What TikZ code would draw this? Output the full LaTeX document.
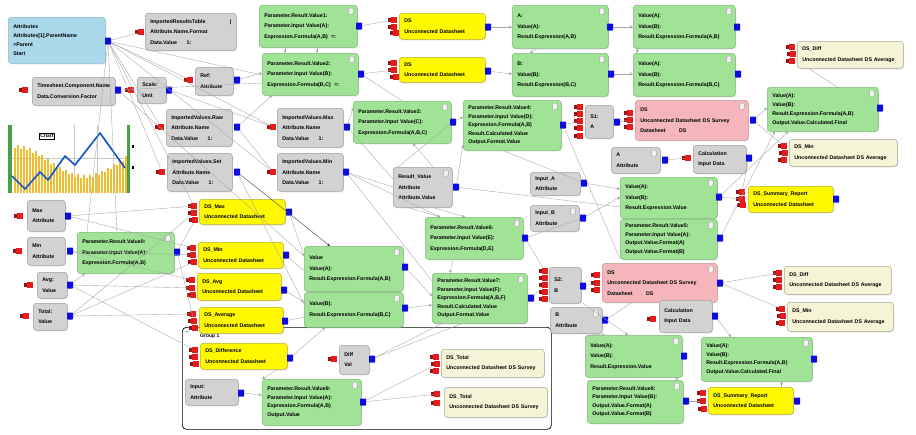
\documentclass[tikz,border=0pt]{standalone}
\usepackage{fontspec}
\newfontfamily\lab{Liberation Sans}
\usetikzlibrary{arrows.meta,shadows}
\definecolor{gfill}{RGB}{160,226,150}
\definecolor{gdraw}{RGB}{125,185,118}
\definecolor{grfill}{RGB}{210,210,210}
\definecolor{grdraw}{RGB}{160,160,160}
\definecolor{yfill}{RGB}{255,248,0}
\definecolor{ydraw}{RGB}{185,175,40}
\definecolor{pfill}{RGB}{244,182,186}
\definecolor{pdraw}{RGB}{200,150,150}
\definecolor{bfill}{RGB}{246,244,214}
\definecolor{bdraw}{RGB}{170,170,150}
\definecolor{lbfill}{RGB}{172,216,236}
\definecolor{lbdraw}{RGB}{140,185,205}
\definecolor{portblue}{RGB}{12,12,225}
\definecolor{portred}{RGB}{230,28,28}
\definecolor{pdark}{RGB}{150,20,20}
\definecolor{cline}{RGB}{165,165,165}
\definecolor{baryel}{RGB}{238,188,45}
\definecolor{chartgreen}{RGB}{70,160,70}
\definecolor{chartblue}{RGB}{25,90,200}
\tikzset{
  box/.style={rounded corners=3pt, line width=0.5pt, inner sep=2pt, align=left,
    drop shadow={shadow xshift=0.8pt, shadow yshift=-1pt, opacity=0.25},
    font=\lab\bfseries\fontsize{5.3}{10.5}\selectfont},
  gn/.style={box, fill=gfill, draw=gdraw},
  gr/.style={box, fill=grfill, draw=grdraw},
  yl/.style={box, fill=yfill, draw=ydraw},
  pk/.style={box, fill=pfill, draw=pdraw},
  bg/.style={box, fill=bfill, draw=bdraw},
  lb/.style={box, fill=lbfill, draw=lbdraw},
  bport/.style={fill=portblue, minimum width=6pt, minimum height=7pt, inner sep=0pt, rounded corners=0.6pt},
  rport/.style={fill=portred, minimum width=6.5pt, minimum height=6.5pt, inner sep=0pt},
  icn/.style={draw=gray!70, fill=white!90!gray, minimum width=5pt, minimum height=6pt, inner sep=0pt, rounded corners=1pt},
  cn/.style={draw=cline, line width=0.35pt},
  cd/.style={draw=black!75, line width=0.4pt},
  ar/.style={-{Stealth[length=3pt,width=3pt]}},
}
\newcommand\bx[7]{%
  \pgfmathsetmacro\bw{#5-#3}\pgfmathsetmacro\bh{#6-#4}\pgfmathsetmacro\tw{#5-#3-10}%
  \node[#2, anchor=north west, minimum width=\bw pt, minimum height=\bh pt, text width=\tw pt] (#1) at (#3,#4) {#7};}
\newcommand\bxi[7]{\bx{#1}{#2}{#3}{#4}{#5}{#6}{#7}%
  \node[icn, anchor=north east] (#1-ic) at ([shift={(-4pt,-3pt)}]#1.north east) {};}
\newcommand\bp[3]{\node[bport] (#1) at (#2,#3) {};}
\newcommand\rp[3]{\fill[pdark] (#2-6.2,#3-1.6) rectangle (#2-2.5,#3+1.6); \node[rport] (#1) at (#2,#3) {};}
\begin{document}
\begin{tikzpicture}[x=1pt,y=-1pt]
\useasboundingbox (0,0) rectangle (916,434);
\fill[white] (0,0) rectangle (916,434);

% ---------- chart ----------
\node[inner sep=0pt, minimum width=122pt, minimum height=68pt, anchor=north west, fill=white] (chart) at (8,125) {};
\draw[gray!45, line width=0.4pt] (74,125) -- (74,193) (97,125) -- (97,193) (11,158) -- (127,158);
\foreach \i in {0,...,37} {
  \pgfmathsetmacro\hh{30+15*cos(3*\i*2.5714)+3*mod(\i,2)}
  \pgfmathsetmacro\xx{14+3*\i}
  \fill[baryel] (\xx,193) rectangle (\xx+2,193-\hh);
}
\fill[chartgreen] (8,125) rectangle (11.5,193);
\fill[chartgreen] (126.5,125) rectangle (130,193);
\draw[chartblue, line width=1.7pt, line join=round] (12,176) -- (25,189) -- (40,172) -- (48,180) -- (65,156) -- (75,165) -- (100,133) -- (125,168);
\node[draw, fill=white, inner sep=1pt, font=\lab\bfseries\fontsize{5}{6}\selectfont] (chartlbl) at (47,136) {Chart};
\fill[black] (132,145) rectangle (134,148);
\fill[black] (132,166) rectangle (134,169);

% ---------- group ----------
\node[draw=black, rounded corners=4pt, line width=0.7pt, minimum width=369pt, minimum height=102pt, anchor=north west, inner sep=0pt] (grp) at (182,327) {};
\node[font=\lab\bfseries\fontsize{4.5}{5}\selectfont, inner sep=0pt] (grpic) at (187,333) {--};
\node[font=\lab\bfseries\fontsize{5}{5}\selectfont, inner sep=0pt, anchor=west] (grplbl) at (200,336) {Group 1};

% ---------- nodes ----------
\bx{n1}{lb}{8}{17}{105}{63}{Attributes\\[-1.5pt]Attributes[1].ParentName\\[-1.5pt]=Parent\\[-1.5pt]Start}
\bp{n1o}{108}{41}
\bx{g1}{gr}{145}{13}{236}{50}{ImportedResultsTable \hfill|\\Attribute.Name.Format\\Data.Value \hspace{6pt} 1:}
\rp{g1a}{141}{32}
\bx{g2}{gr}{32}{77}{115}{105}{Timesheet.Component.Name\\Data.Conversion.Factor}
\rp{g2a}{25}{90}\bp{g2o}{118}{90}
\bx{g3}{gr}{137}{77}{166}{103}{Scale:\\Unit}
\rp{g3a}{131}{90}\bp{g3o}{169}{90}
\bx{g4}{gr}{195}{67}{233}{95}{Ref:\\Attribute}
\rp{g4a}{190}{80}\bp{g4o}{237}{80}
\bx{g5}{gr}{166}{109}{232}{146}{ImportedValues.Raw\\Attribute.Name\\Data.Value \hspace{6pt} 1:}
\rp{g5a}{161}{127}\bp{g5o}{237}{127}
\bx{g6}{gr}{167}{153}{232}{191}{ImportedValues.Set\\Attribute.Name\\Data.Value \hspace{6pt} 1:}
\rp{g6a}{162}{172}\bp{g6o}{237}{172}

\bxi{G1}{gn}{259}{5}{357}{47}{Parameter.Result.Value1:\\Parameter.Input Value(A):\\Expression.Formula(A,B) \ =:}
\bp{G1o}{359}{26}
\bxi{G2}{gn}{262}{53}{358}{95}{Parameter.Result.Value2:\\Parameter.Input Value(B):\\Expression.Formula(B,C) \ =:}
\bp{G2o}{361}{74}
\bx{Y1}{yl}{399}{13}{485}{39}{DS\\Unconnected Datasheet}
\rp{Y1a}{394}{20}\rp{Y1b}{394}{27}\rp{Y1c}{396}{33}\bp{Y1o}{488}{27}
\bx{Y2}{yl}{399}{57}{485}{82}{DS\\Unconnected Datasheet}
\rp{Y2a}{394}{63}\rp{Y2b}{394}{70}\rp{Y2c}{396}{77}\bp{Y2o}{488}{71}
\bxi{G3}{gn}{512}{5}{608}{48}{A:\\Value(A):\\Result.Expression(A,B)}
\bp{G3o}{610}{27}
\bxi{G4}{gn}{512}{53}{608}{96}{B:\\Value(B):\\Result.Expression(B,C)}
\bp{G4o}{611}{74}
\bxi{G5}{gn}{633}{5}{735}{48}{Value(A):\\Value(B):\\Result.Expression.Formula(A,B)}
\bp{G5o}{737}{27}
\bxi{G6}{gn}{633}{53}{735}{96}{Value(A):\\Value(B):\\Result.Expression.Formula(B,C)}
\bp{G6o}{738}{74}
\bx{B1}{bg}{797}{41}{903}{68}{DS\_Diff\\Unconnected Datasheet DS Average}
\rp{B1a}{792}{47}\rp{B1b}{793}{54}\rp{B1c}{792}{61}
\bxi{G7}{gn}{767}{87}{878}{131}{Value(A):\\[-1.5pt]Value(B):\\[-1.5pt]Result.Expression.Formula(A,B)\\[-1.5pt]Output.Value.Calculated.Final}
\bp{G7o}{880}{108}
\bx{B2}{bg}{789}{139}{897}{166}{DS\_Min\\Unconnected Datasheet DS Average}
\rp{B2a}{784}{146}\rp{B2b}{785}{153}\rp{B2c}{784}{160}

\bx{G8}{gr}{277}{108}{343}{147}{ImportedValues.Max\\Attribute.Name\\Data.Value \hspace{6pt} 1:}
\rp{G8a}{273}{127}\bp{G8o}{347}{127}
\bx{G9}{gr}{277}{153}{343}{191}{ImportedValues.Min\\Attribute.Name\\Data.Value \hspace{6pt} 1:}
\rp{G9a}{273}{172}\bp{G9o}{346}{172}
\bxi{G10}{gn}{353}{101}{451}{143}{Parameter.Result.Value3:\\Parameter.Input Value(C):\\Expression.Formula(A,B,C)}
\bp{G10o}{453}{122}
\bxi{G11}{gn}{463}{100}{561}{150}{Parameter.Result.Value4:\\[-2pt]Parameter.Input Value(D):\\[-2pt]Expression.Formula(A,B)\\[-2pt]Result.Calculated.Value\\[-2pt]Output.Format.Value}
\bp{G11o}{563}{125}
\bx{g12}{gr}{585}{105}{613}{138}{S1:\\A}
\rp{g12a}{580}{107}\rp{g12b}{580}{114}\rp{g12c}{580}{121}\rp{g12d}{580}{128}\rp{g12e}{580}{136}\bp{g12o}{617}{122}
\bxi{P1}{pk}{635}{100}{748}{140}{DS\\Unconnected Datasheet DS Survey\\Datasheet \hspace{10pt} DS}
\rp{P1a}{630}{113}\rp{P1b}{630}{120}\rp{P1c}{630}{127}\bp{P1o}{753}{120}
\bxi{g13}{gr}{611}{147}{660}{173}{A\\Attribute}
\bp{g13o}{665}{160}
\bx{g14}{gr}{693}{145}{746}{173}{Calculation\\Input Data}
\rp{g14a}{688}{158}\bp{g14o}{749}{158}
\bx{Y3}{yl}{748}{186}{833}{212}{DS\_Summary\_Report\\Unconnected Datasheet}
\rp{Y3a}{742}{192}\rp{Y3b}{742}{199}\rp{Y3c}{743}{205}\bp{Y3o}{836}{199}

\bxi{g15}{gr}{393}{167}{452}{207}{Result\_Value\\Attribute\\Attribute.Value}
\bp{g15o}{456}{187}
\bx{g16}{gr}{530}{172}{580}{195}{Input\_A\\Attribute}
\bp{g16o}{584}{183}
\bxi{g17}{gr}{530}{205}{579}{231}{Input\_B\\Attribute}
\bp{g17o}{583}{218}
\bxi{G12}{gn}{620}{177}{717}{218}{Value(A):\\Value(B):\\Result.Expression.Value}
\bp{G12o}{719}{197}
\bxi{G13}{gn}{620}{219}{717}{259}{Parameter.Result.Value5:\\[-2pt]Parameter.Input Value(A):\\[-2pt]Output.Value.Format(A)\\[-2pt]Output.Value.Format(B)}
\bp{G13o}{720}{238}
\bxi{G14}{gn}{425}{217}{523}{259}{Parameter.Result.Value6:\\Parameter.Input Value(E):\\Expression.Formula(D,E)}
\bp{G14o}{525}{238}
\bxi{G15}{gn}{304}{246}{403}{291}{Value\\Value(A):\\Result.Expression.Formula(A,B)}
\bp{G15o}{405}{267}
\bxi{G16}{gn}{304}{292}{403}{327}{Value(B):\\Result.Expression.Formula(B,C)}
\bp{G16o}{405}{308}
\bxi{G17}{gn}{432}{273}{527}{323}{Parameter.Result.Value7:\\[-2pt]Parameter.Input Value(F):\\[-2pt]Expression.Formula(A,B,F)\\[-2pt]Result.Calculated.Value\\[-2pt]Output.Format.Value}
\bp{G17o}{531}{298}
\bx{g18}{gr}{549}{267}{581}{303}{S2:\\B}
\rp{g18a}{545}{271}\rp{g18b}{545}{278}\rp{g18c}{545}{285}\rp{g18d}{545}{292}\rp{g18e}{545}{299}\bp{g18o}{583}{286}
\bxi{P2}{pk}{602}{263}{717}{302}{DS\\Unconnected Datasheet DS Survey\\Datasheet \hspace{10pt} DS}
\rp{P2a}{597}{275}\rp{P2b}{597}{283}\rp{P2c}{597}{290}\bp{P2o}{720}{283}
\bxi{g19}{gr}{550}{307}{602}{333}{B\\Attribute}
\bp{g19o}{605}{320}
\bx{g20}{gr}{659}{300}{712}{332}{Calculation\\Input Data}
\rp{g20a}{653}{319}\bp{g20o}{715}{316}
\bx{B3}{bg}{784}{266}{891}{294}{DS\_Diff\\Unconnected Datasheet DS Average}
\rp{B3a}{779}{273}\rp{B3b}{779}{280}\rp{B3c}{779}{287}
\bx{B4}{bg}{787}{302}{893}{331}{DS\_Min\\Unconnected Datasheet DS Average}
\rp{B4a}{782}{309}\rp{B4b}{783}{316}\rp{B4c}{782}{323}
\bxi{G18}{gn}{585}{335}{682}{377}{Value(A):\\Value(B):\\Result.Expression.Value}
\bp{G18o}{684}{356}
\bxi{G19}{gn}{587}{380}{683}{423}{Parameter.Result.Value8:\\[-2pt]Parameter.Input Value(B):\\[-2pt]Output.Value.Format(A)\\[-2pt]Output.Value.Format(B)}
\bp{G19o}{686}{401}
\bxi{G20}{gn}{701}{337}{812}{381}{Value(A):\\[-2pt]Value(B):\\[-2pt]Result.Expression.Formula(A,B)\\[-2pt]Output.Value.Calculated.Final}
\bp{G20o}{814}{359}
\bx{Y4}{yl}{708}{387}{793}{414}{DS\_Summary\_Report\\Unconnected Datasheet}
\rp{Y4a}{703}{393}\rp{Y4b}{703}{401}\rp{Y4c}{704}{409}\bp{Y4o}{797}{401}

\bx{g21}{gr}{27}{200}{65}{231}{Max\\Attribute}
\rp{g21a}{20}{216}\bp{g21o}{68}{216}
\bx{g22}{gr}{27}{237}{65}{265}{Min\\Attribute}
\rp{g22a}{19}{251}\bp{g22o}{70}{251}
\bx{g23}{gr}{37}{272}{67}{298}{Avg:\\Value}
\rp{g23a}{30}{285}\bp{g23o}{70}{285}
\bx{g24}{gr}{33}{303}{67}{330}{Total:\\Value}
\rp{g24a}{26}{316}\bp{g24o}{70}{316}
\bxi{G21}{gn}{77}{232}{174}{273}{Parameter.Result.Value0:\\Parameter.Input Value(A):\\Expression.Formula(A,B)}
\bp{G21o}{177}{252}
\bx{Y5}{yl}{199}{199}{285}{224}{DS\_Max\\Unconnected Datasheet}
\rp{Y5a}{194}{206}\rp{Y5b}{194}{213}\rp{Y5c}{195}{220}\bp{Y5o}{289}{212}
\bx{Y6}{yl}{198}{242}{283}{268}{DS\_Min\\Unconnected Datasheet}
\rp{Y6a}{193}{248}\rp{Y6b}{193}{255}\rp{Y6c}{194}{262}\bp{Y6o}{286}{255}
\bx{Y7}{yl}{197}{273}{281}{300}{DS\_Avg\\Unconnected Datasheet}
\rp{Y7a}{192}{280}\rp{Y7b}{192}{288}\rp{Y7c}{193}{295}\bp{Y7o}{284}{290}
\bx{Y8}{yl}{199}{307}{283}{333}{DS\_Average\\Unconnected Datasheet}
\rp{Y8a}{193}{314}\rp{Y8b}{194}{321}\rp{Y8c}{195}{328}\bp{Y8o}{285}{321}
\bx{Y9}{yl}{200}{343}{287}{369}{DS\_Difference\\Unconnected Datasheet}
\rp{Y9a}{195}{350}\rp{Y9b}{195}{357}\rp{Y9c}{196}{364}\bp{Y9o}{290}{358}
\bx{g25}{gr}{185}{379}{238}{405}{Input:\\Attribute}
\bp{g25o}{241}{393}
\bxi{G22}{gn}{262}{379}{361}{425}{Parameter.Result.Value9:\\[-2pt]Parameter.Input Value(A):\\[-2pt]Expression.Formula(A,B)\\[-2pt]Output.Value}
\bp{G22o}{363}{402}
\bx{g26}{gr}{339}{345}{369}{374}{Diff\\Val}
\rp{g26a}{334}{359}\bp{g26o}{372}{359}
\bx{B5}{bg}{441}{349}{544}{377}{DS\_Total\\Unconnected Datasheet DS Survey}
\rp{B5a}{436}{357}\rp{B5b}{437}{364}\rp{B5c}{436}{371}
\bx{B6}{bg}{444}{387}{547}{417}{DS\_Total\\Unconnected Datasheet DS Survey}
\rp{B6a}{437}{394}\rp{B6b}{437}{403}

% ---------- connectors ----------
\draw[cn] (n1o) -- (g1a);
\draw[cn] (n1o) -- (g4a);
\draw[cn] (n1o) -- (g5a);
\draw[cn] (n1o) -- (g6a);
\draw[cn] (n1o) -- (G8a);
\draw[cn] (n1o) -- (G9a);
\draw[cn] (n1o) -- ([yshift=-22pt]G2.north west);
\draw[cn] (n1o) -- (Y5a);
\draw[cn] (n1o) -- ([xshift=40pt]G21.north west);
\draw[cn] (n1o) -- ([xshift=10pt]G21.north west);
\draw[cn] (g2o) -- ([yshift=-30pt]G2.north west);
\draw[cn] (g3o) -- (G8a);
\draw[cn,ar] (g4o) -- ([yshift=-20pt]G2.north west);
\draw[cn,ar] (g5o) -- ([xshift=10pt]G2.south west);
\draw[cn] (g5o) -- (G9a);
\draw[cd,ar] (g6o) -- ([xshift=26pt]G15.north west);
\draw[cn] (g6o) -- ([yshift=-12pt]G16.north west);
\draw[cn,ar] ([xshift=26pt]G1.south west) -- ([xshift=23pt]G2.north west);
\draw[cn,ar] ([xshift=58pt]G1.south west) -- ([xshift=55pt]G2.north west);
\draw[cn] (G1o) -- (Y1a);
\draw[cn] (G2o) -- (Y2b);
\draw[cn,ar] (G8o) -- ([yshift=-7pt]G10.north west);
\draw[cn] (G8o) -- ([yshift=-12pt]g15.north west);
\draw[cn] (G9o) -- ([yshift=-20pt]g15.north west);
\draw[cn,ar] (G9o) -- ([xshift=15pt]G14.north west);
\draw[cn] (G9o) -- ([yshift=-8pt]G17.north west);
\draw[cn,ar] (Y1o) -- ([yshift=-22pt]G3.north west);
\draw[cn,ar] (Y2o) -- ([yshift=-21pt]G4.north west);
\draw[cn,ar] (G3o) -- ([yshift=-22pt]G5.north west);
\draw[cn,ar] (G4o) -- ([yshift=-21pt]G6.north west);
\draw[cn,ar] ([xshift=25pt]G3.south west) -- ([xshift=18pt]G4.north west);
\draw[cn,ar] ([xshift=4pt]G5.south west) -- ([xshift=4pt]G6.north west);
\draw[cn,ar] (G10o) -- ([yshift=-17pt]G11.north west);
\draw[cn,ar] ([xshift=40pt]g15.north west) -- ([xshift=60pt]G10.south west);
\draw[cn,ar] (g15o) -- ([yshift=-45pt]G11.north west);
\draw[cn] (G11o) -- (g12c);
\draw[cn] (g12o) -- (P1b);
\draw[cn,ar] (P1o) -- ([yshift=-21pt]G7.north west);
\draw[cn] (P1o) -- (B2a);
\draw[cn] ([xshift=12pt]B1.south west) -- ([xshift=70pt]G7.north west);
\draw[cn,ar] (G13o) -- ([xshift=8pt]G7.south west);
\draw[cn,ar] (G12o) -- ([xshift=21pt]G7.south west);
\draw[cn] (g13o) -- (g14a);
\draw[cn] (g14o) -- (Y3a);
\draw[cn] (G12o) -- (Y3b);
\draw[cn,ar] (g16o) -- ([yshift=-12pt]G12.north west);
\draw[cn,ar] (g17o) -- ([yshift=-20pt]G12.north west);
\draw[cn] (g15o) -- ([yshift=-30pt]G12.north west);
\draw[cn] (G11o) -- ([yshift=-40pt]G13.north west);
\draw[cn,ar] ([xshift=15pt]g15.south west) -- ([xshift=15pt]G14.north west);
\draw[cn,ar] ([xshift=40pt]g15.south west) -- ([xshift=40pt]G14.north west);
\draw[cn,ar] ([xshift=28pt]G14.south west) -- ([xshift=18pt]G17.north west);
\draw[cn,ar] (G15o) -- ([yshift=-23pt]G17.north west);
\draw[cn,ar] (G16o) -- ([yshift=-32pt]G17.north west);
\draw[cn] (G17o) -- (g18c);
\draw[cn] (G14o) -- (g18a);
\draw[cn] (g18o) -- (P2b);
\draw[cn] (g19o) -- ([xshift=30pt]P2.south west);
\draw[cn] (P2o) -- (B3a);
\draw[cn] (P2o) -- (B4a);
\draw[cn,ar] (g20o) -- ([xshift=30pt]G20.north west);
\draw[cn,ar] ([xshift=-20pt]g19.south east) -- ([xshift=20pt]G18.north west);
\draw[cn,ar] ([xshift=-20pt]P2.south west) -- ([xshift=43pt]G18.north west);
\draw[cn,ar] ([xshift=-5pt]G18.south east) -- ([xshift=-8pt]G19.north east);
\draw[cn,ar] ([xshift=-12pt]Y4.north east) -- ([xshift=-31pt]G20.south east);
\draw[cn] (G19o) -- (Y4b);
\draw[cn] (g21o) -- (Y5a);
\draw[cn] (g21o) -- (Y6a);
\draw[cn] (g22o) -- (Y6b);
\draw[cn] (g22o) -- (Y7a);
\draw[cn] (g23o) -- (Y7b);
\draw[cn] (g23o) -- (Y9a);
\draw[cn,ar] (g23o) -- ([xshift=8pt]G21.south west);
\draw[cn] (g24o) -- (Y5b);
\draw[cn] (g24o) -- (Y6c);
\draw[cn] (g24o) -- (Y8a);
\draw[cn] (G21o) -- (Y5c);
\draw[cn] (G21o) -- (Y8b);
\draw[cn,ar] (Y5o) -- ([yshift=-10pt]G15.north west);
\draw[cn] (Y6o) -- ([yshift=-25pt]G15.north west);
\draw[cn,ar] (Y7o) -- ([yshift=-10pt]G16.north west);
\draw[cn] (Y8o) -- ([yshift=-25pt]G16.north west);
\draw[cn,ar] (Y9o) -- ([xshift=21pt]G16.south west);
\draw[cn,ar] (g25o) -- ([yshift=-16pt]G22.north west);
\draw[cn,ar] ([xshift=-10pt]Y9.south east) -- ([xshift=0pt]G22.north west);
\draw[cn] (g26o) -- ([xshift=10pt]G17.south west);
\draw[cn] (g26o) -- ([xshift=30pt]G17.south west);
\draw[cn] (G22o) -- (B5b);
\draw[cn] (G22o) -- (B6a);
\draw[cn] (g2o) -- ([yshift=-10pt]G15.north west);
\draw[cn] (G10o) -- ([xshift=5pt]g15.north west);
\draw[cn] (G2o) -- (G10.north);
\draw[cn] (g17o) -- (G14o);
\draw[cn] (g16o) -- ([xshift=40pt]G11.south west);
\end{tikzpicture}
\end{document}
